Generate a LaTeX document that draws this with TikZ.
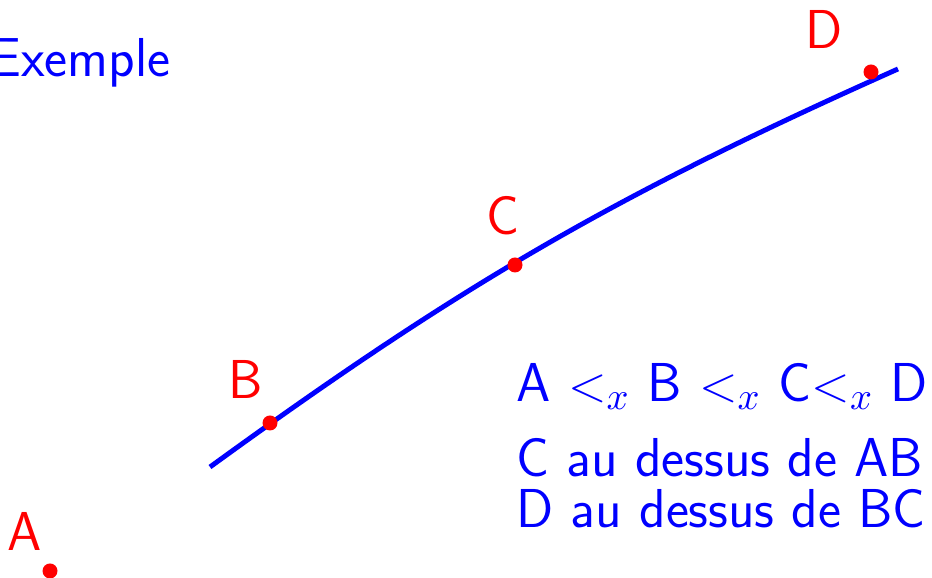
\documentclass[tikz,border=0pt]{standalone}
\usepackage{xcolor}
\usepackage{tikz}
\usetikzlibrary{positioning}

\begin{document}
\begin{tikzpicture}[
  font=\sffamily\fontsize{15.6}{19}\selectfont,
  pt/.style={circle, fill=red, inner sep=0pt, minimum size=0.15cm},
  ptlabel/.style={text=red, inner sep=0pt, anchor=base},
  curve/.style={draw=blue, line width=1.4pt},
  remark/.style={text=blue, inner sep=0pt, anchor=base west}
]
\useasboundingbox (0,0) rectangle (9.32,5.78);
\node[text=blue, inner sep=0pt, anchor=base east] (title) at (1.71,5.01) {Exemple};

\coordinate (start) at (2.10,1.11);
\coordinate (stop) at (8.98,5.09);
\draw[curve] (start) to[out=36,in=204] (stop);

\node[pt] (A) at (0.50,0.07) {};
\node[pt] (B) at (2.70,1.55) {};
\node[pt] (C) at (5.15,3.13) {};
\node[pt] (D) at (8.71,5.06) {};
\node[ptlabel] (labelA) at (0.25,0.27) {A};
\node[ptlabel] (labelB) at (2.46,1.79) {B};
\node[ptlabel] (labelC) at (5.03,3.43) {C};
\node[ptlabel] (labelD) at (8.24,5.29) {D};

\node[remark] (order) at (5.16,1.76) {A $<_x$ B $<_x$ C$<_x$ D};
\node[remark] (aboveAB) at (5.16,1.01) {C au dessus de AB};
\node[remark] (aboveBC) at (5.16,0.50) {D au dessus de BC};
\end{tikzpicture}
\end{document}
